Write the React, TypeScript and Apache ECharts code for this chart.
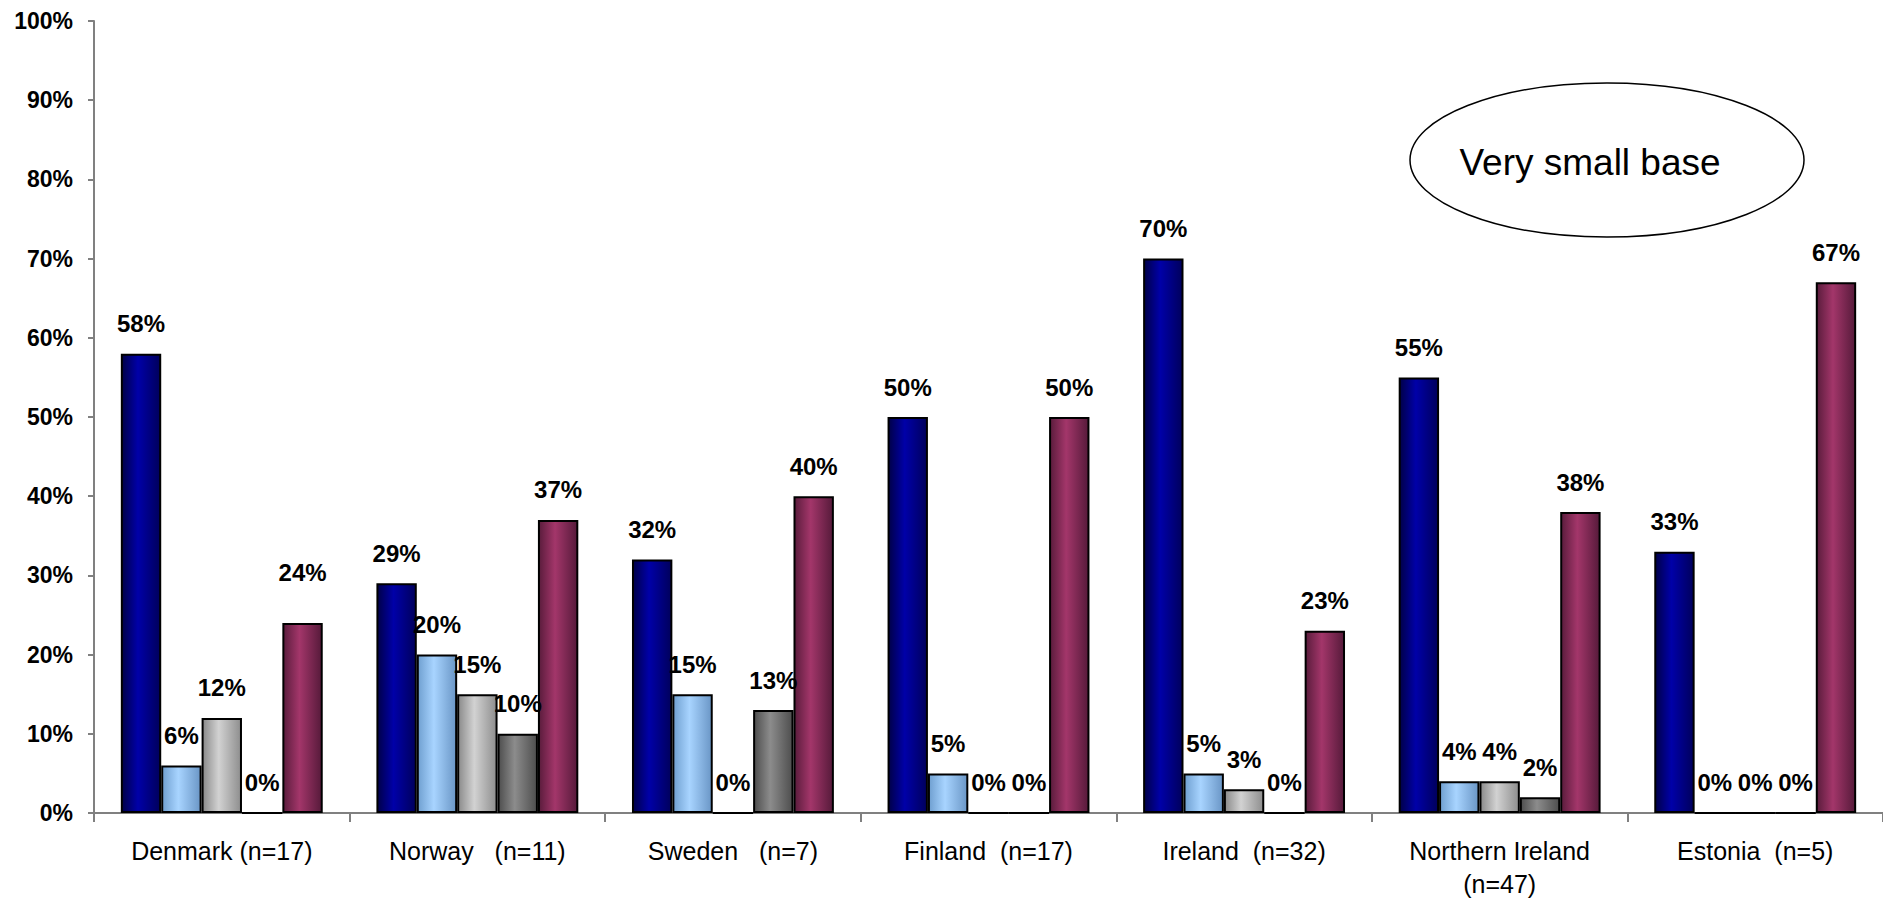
import React, { useEffect, useRef } from "react";
import * as echarts from "echarts";

const categories = [
  "Denmark (n=17)",
  "Norway   (n=11)",
  "Sweden   (n=7)",
  "Finland  (n=17)",
  "Ireland  (n=32)",
  "Northern Ireland\n(n=47)",
  "Estonia  (n=5)",
];

const series1 = [58, 29, 32, 50, 70, 55, 33];
const series2 = [6, 20, 15, 5, 5, 4, 0];
const series3 = [12, 15, 0, 0, 3, 4, 0];
const series4 = [0, 10, 13, 0, 0, 2, 0];
const series5 = [24, 37, 40, 50, 23, 38, 67];

const seriesNames = ["Series 1", "Series 2", "Series 3", "Series 4", "Series 5"];
const seriesData = [series1, series2, series3, series4, series5];

const yTicks = [0, 10, 20, 30, 40, 50, 60, 70, 80, 90, 100];

const gradients = [
  ["#000048", "#0000A8", "#00005C"],
  ["#6F9FD0", "#A8D4FF", "#6A96C6"],
  ["#8A8A8A", "#D2D2D2", "#8E8E8E"],
  ["#4E4E4E", "#8C8C8C", "#4E4E4E"],
  ["#5A1C3C", "#A3366A", "#561A3A"],
];

function grad(c: string[]) {
  return new echarts.graphic.LinearGradient(0, 0, 1, 0, [
    { offset: 0, color: c[0] },
    { offset: 0.42, color: c[1] },
    { offset: 1, color: c[2] },
  ]);
}

export default function App() {
  const ref = useRef<HTMLDivElement>(null);

  useEffect(() => {
    if (!ref.current) return;
    const chart = echarts.init(ref.current, null, { renderer: "svg" });
    const font = "'Liberation Sans', Arial, sans-serif";

    chart.setOption({
      animation: false,
      backgroundColor: "#ffffff",
      grid: { left: 94, right: -6, top: 21, bottom: 83, containLabel: false },
      xAxis: {
        type: "category",
        data: categories,
        axisLine: { lineStyle: { color: "#808080", width: 2 } },
        axisTick: { show: true, length: 9, lineStyle: { color: "#808080", width: 2 } },
        axisLabel: {
          interval: 0,
          margin: 21,
          color: "#000",
          fontFamily: font,
          fontSize: 25,
          lineHeight: 33,
        },
      },
      yAxis: {
        type: "value",
        min: 0,
        max: yTicks[yTicks.length - 1],
        interval: 10,
        splitLine: { show: false },
        axisLine: { show: true, lineStyle: { color: "#808080", width: 2 } },
        axisTick: { show: true, length: 6, lineStyle: { color: "#808080", width: 2 } },
        axisLabel: {
          margin: 21,
          color: "#000",
          fontFamily: font,
          fontSize: 23,
          fontWeight: "bold",
          formatter: "{value}%",
        },
      },
      series: seriesData.map((d, si) => ({
        type: "bar",
        name: seriesNames[si],
        barGap: "0%",
        barCategoryGap: "21%",
        itemStyle: {
          color: grad(gradients[si]),
          borderColor: "#000",
          borderWidth: 2,
        },
        label: {
          show: true,
          position: "top",
          distance: 18,
          color: "#000",
          fontFamily: font,
          fontSize: 24,
          fontWeight: "bold",
          formatter: "{c}%",
        },
        data: d.map((v, i) =>
          si === 4 && i === 0 ? { value: v, label: { distance: 38 } } : v
        ),
      })),
      graphic: [
        {
          type: "ellipse",
          shape: { cx: 1607, cy: 160, rx: 197, ry: 77 },
          style: { fill: "#fff", stroke: "#000", lineWidth: 1.5 },
          z: 10,
        },
        {
          type: "text",
          x: 1590,
          y: 162,
          style: {
            text: "Very small base",
            fontFamily: font,
            fontSize: 37,
            fill: "#000",
            align: "center",
            verticalAlign: "middle",
          },
          z: 11,
        },
      ],
    });

    return () => chart.dispose();
  }, []);

  return (
    <div
      ref={ref}
      style={{ position: "absolute", left: 0, top: 0, width: 1883, height: 900 }}
    />
  );
}
